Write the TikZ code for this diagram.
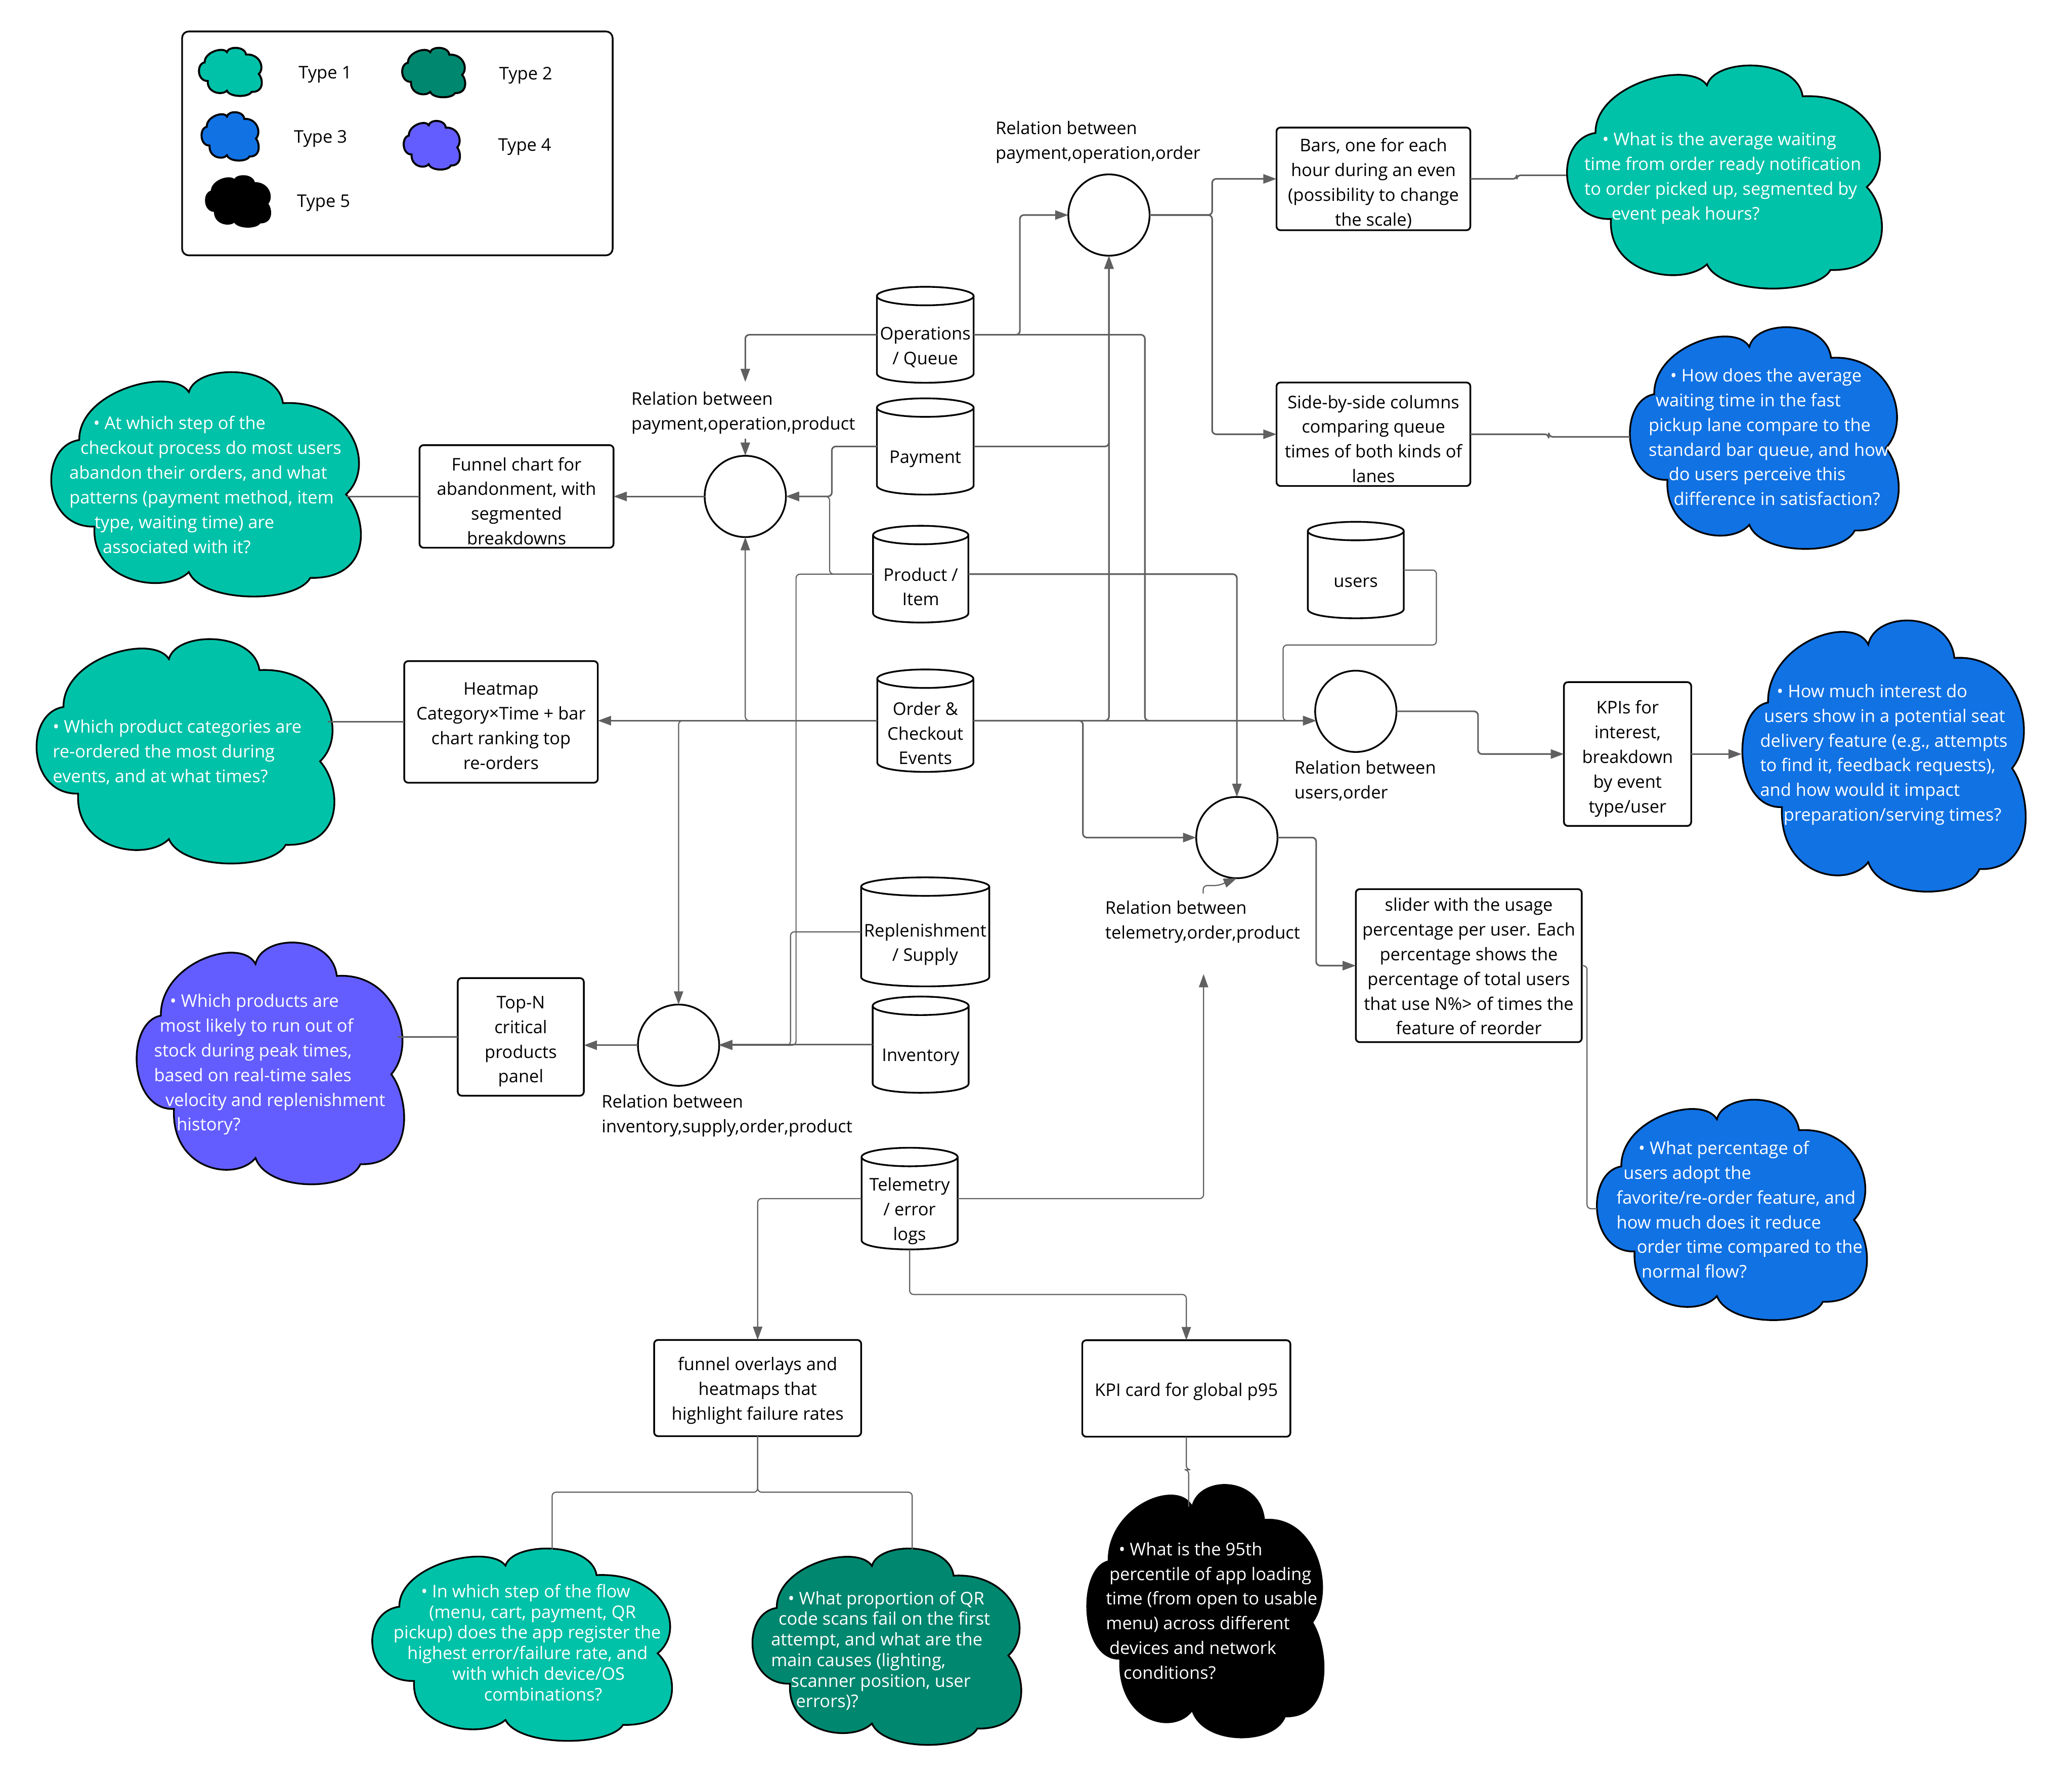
\documentclass[tikz,border=0pt]{standalone}
\usepackage{fontspec}
\setmainfont{Open Sans}
\usetikzlibrary{arrows.meta,calc}
\definecolor{typeone}{HTML}{00C2A8}
\definecolor{typetwo}{HTML}{00876F}
\definecolor{typethree}{HTML}{1172E4}
\definecolor{typefour}{HTML}{635DFF}
\definecolor{lgray}{HTML}{606060}

% cloud outline in a unit box: x, y, width, height, fill colour, line width
\newcommand{\qcloud}[6]{%
  \filldraw[fill=#5, draw=black, line width=#6, shift={(#1,#2)}, xscale=#3, yscale=#4]
   (.102,.303) .. controls (.10,.08) and (.40,-.03) .. (.455,.087)
   .. controls (.48,-.04) and (.74,-.04) .. (.758,.137)
   .. controls (.98,.12) and (1.06,.42) .. (.961,.548)
   .. controls (1.03,.65) and (1.05,.93) .. (.846,.924)
   .. controls (.80,1.04) and (.50,1.04) .. (.455,.898)
   .. controls (.38,1.0) and (.14,.95) .. (.151,.693)
   .. controls (-.02,.70) and (-.03,.33) .. (.102,.303) -- cycle;}

% data store cylinder: name, x1, y1, x2, y2, text
\newcommand{\dbcyl}[6]{%
  \node[txt, minimum width={#4-#2}, minimum height={#5-#3}] (#1) at ({(#2+#4)/2},{(#3+#5)/2}) {};
  \fill[white] ({#2},{#3+7}) -- ({#2},{#5-7}) .. controls ({#2},{#5+2.33}) and ({#4},{#5+2.33}) .. ({#4},{#5-7}) -- ({#4},{#3+7}) -- cycle;
  \draw[line width=1.3pt] ({#2},{#3+7}) -- ({#2},{#5-7}) .. controls ({#2},{#5+2.33}) and ({#4},{#5+2.33}) .. ({#4},{#5-7}) -- ({#4},{#3+7});
  \filldraw[fill=white, line width=1.3pt] ({(#2+#4)/2},{#3+7}) ellipse [x radius={(#4-#2)/2}, y radius=7];
  \node[txt, align=center] (#1T) at ({(#2+#4)/2},{(#3+#5)/2+9.5}) {#6};}

% visual box: name, centre x, centre y, width, height, text offset, text
\newcommand{\vizbox}[7]{%
  \node[vbox, minimum width=#4pt, minimum height=#5pt] (#1) at (#2,#3) {};
  \node[txt, align=center] (#1T) at ($(#1.center)+(0,#6)$) {#7};}

\begin{document}
\begin{tikzpicture}[x=1pt,y=-1pt,
  txt/.style={font=\fontsize{13.2}{18.7}\selectfont, inner sep=0pt, outer sep=0pt},
  vbox/.style={txt, draw=black, line width=1.3pt, rounded corners=3pt, fill=white},
  rel/.style={circle, draw=black, line width=1.3pt, fill=white, minimum size=61.5pt, inner sep=0pt, outer sep=0pt},
  lbl/.style={txt, align=left, anchor=north west},
  ctext/.style={txt, text=white, align=left, anchor=north west},
  ctight/.style={ctext, font=\fontsize{13.2}{15.6}\selectfont},
  conn/.style={draw=lgray, line width=1.2pt, rounded corners=3pt},
  connlite/.style={draw=lgray, line width=0.85pt, rounded corners=3pt},
  arr/.style={-{Triangle[length=10pt,width=7pt]}}
]
\useasboundingbox (0,0) rectangle (1568,1348);
\fill[white] (0,0) rectangle (1568,1348);

% ---------- legend ----------
\node[draw=black, line width=1.3pt, rounded corners=5pt, minimum width=325.8pt, minimum height=169.4pt, inner sep=0pt] (legend) at (300.7,108.5) {};
\qcloud{150}{36.3}{47.7}{36}{typeone}{1.5pt}
\qcloud{303.8}{36.3}{47.8}{37}{typetwo}{1.5pt}
\qcloud{152}{85}{43.4}{36.2}{typethree}{1.5pt}
\qcloud{305}{91.6}{42.7}{36.4}{typefour}{1.5pt}
\qcloud{155.3}{133.4}{48.7}{37.8}{black}{1.5pt}
\node[txt, anchor=west] (lt1) at (226,56.5) {Type 1};
\node[txt, anchor=west] (lt2) at (377.8,57) {Type 2};
\node[txt, anchor=west] (lt3) at (222.5,105) {Type 3};
\node[txt, anchor=west] (lt4) at (377,111.3) {Type 4};
\node[txt, anchor=west] (lt5) at (224.8,153.6) {Type 5};

% ---------- question clouds ----------
\qcloud{1183}{50}{239}{167}{typeone}{1.3pt}
\qcloud{1231}{248}{204}{166}{typethree}{1.3pt}
\qcloud{36}{282}{235}{168}{typeone}{1.3pt}
\qcloud{25}{484}{226}{168}{typeone}{1.3pt}
\qcloud{1316}{470}{215}{203}{typethree}{1.3pt}
\qcloud{1206}{832.5}{205}{165}{typethree}{1.3pt}
\qcloud{101}{713.6}{203}{181}{typefour}{1.3pt}
\qcloud{279}{1172}{227.5}{144}{typeone}{1.3pt}
\qcloud{567}{1172}{204}{147}{typetwo}{1.3pt}
\qcloud{820.6}{1124}{179.4}{189}{black}{1.3pt}

\node[ctext] (qA) at (1199,100.2) {\hspace*{13.6pt}• What is the average waiting\\time from order ready notification\\to order picked up, segmented by\\\hspace*{20.6pt}event peak hours?};
\node[ctext] (qB) at (1247.6,278.8) {\hspace*{16.4pt}• How does the average\\\hspace*{5.4pt}waiting time in the fast\\pickup lane compare to the\\standard bar queue, and how\\\hspace*{15.2pt}do users perceive this\\\hspace*{19pt}difference in satisfaction?};
\node[ctext] (qC) at (52.5,314.9) {\hspace*{18.2pt}• At which step of the\\\hspace*{8.4pt}checkout process do most users\\abandon their orders, and what\\patterns (payment method, item\\\hspace*{19pt}type, waiting time) are\\\hspace*{25.3pt}associated with it?};
\node[ctext] (qD) at (40,544.6) {• Which product categories are\\re-ordered the most during\\events, and at what times?};
\node[ctext] (qE) at (1332,517.6) {\hspace*{12.6pt}• How much interest do\\\hspace*{3pt}users show in a potential seat\\delivery feature (e.g., attempts\\to find it, feedback requests),\\and how would it impact\\\hspace*{17.7pt}preparation/serving times?};
\node[ctext] (qF) at (1223.3,863.3) {\hspace*{16.7pt}• What percentage of\\\hspace*{5.3pt}users adopt the\\favorite/re-order feature, and\\how much does it reduce\\\hspace*{15.4pt}order time compared to the\\\hspace*{19pt}normal flow?};
\node[ctext] (qG) at (116.6,752) {\hspace*{12pt}• Which products are\\\hspace*{4.3pt}most likely to run out of\\stock during peak times,\\based on real-time sales\\\hspace*{8.6pt}velocity and replenishment\\\hspace*{17.1pt}history?};
\node[ctight] (qH) at (297.8,1198.6) {\hspace*{20.8pt}• In which step of the flow\\\hspace*{27pt}(menu, cart, payment, QR\\pickup) does the app register the\\\hspace*{10.4pt}highest error/failure rate, and\\\hspace*{44.4pt}with which device/OS\\\hspace*{68.5pt}combinations?};
\node[ctight] (qI) at (583.5,1203.8) {\hspace*{12.8pt}• What proportion of QR\\\hspace*{5.7pt}code scans fail on the first\\attempt, and what are the\\main causes (lighting,\\\hspace*{15.1pt}scanner position, user\\\hspace*{18.9pt}errors)?};
\node[ctext] (qJ) at (837,1166.8) {\hspace*{9.6pt}• What is the 95th\\\hspace*{2.5pt}percentile of app loading\\time (from open to usable\\menu) across different\\\hspace*{2.5pt}devices and network\\\hspace*{13.3pt}conditions?};

% ---------- data stores ----------
\dbcyl{ops}{663.6}{217}{736.8}{289.6}{Operations\\/ Queue}
\dbcyl{pay}{663.6}{301.4}{736.8}{374.2}{Payment}
\dbcyl{prod}{660.7}{397.8}{732.8}{471}{Product /\\Item}
\dbcyl{order}{663.9}{506.5}{736.6}{584}{Order \&\\Checkout\\Events}
\dbcyl{users}{989.7}{394.8}{1062.3}{467.8}{users}
\dbcyl{rep}{651.7}{663.8}{748.6}{746.3}{Replenishment\\/ Supply}
\dbcyl{inv}{660.4}{754}{733}{826.8}{Inventory}
\dbcyl{tel}{652}{868.4}{724.7}{945.3}{Telemetry\\/ error\\logs}

% ---------- relation circles ----------
\node[rel] (c1) at (839.2,162.7) {};
\node[rel] (c2) at (564,375.6) {};
\node[rel] (c3) at (1026,538.2) {};
\node[rel] (c4) at (936,633.7) {};
\node[rel] (c5) at (513.5,790.8) {};
\node[lbl] (c1lab) at (753.4,91.8) {Relation between\\payment,operation,order};
\node[lbl] (c2lab) at (477.8,296.4) {Relation between\\payment,operation,product};
\node[lbl] (c3lab) at (979.6,575.4) {Relation between\\users,order};
\node[lbl] (c4lab) at (836.4,681.5) {Relation between\\telemetry,order,product};
\node[lbl] (c5lab) at (455.3,828) {Relation between\\inventory,supply,order,product};

% ---------- visual boxes ----------
\vizbox{bars}{1039.35}{135.35}{146.7}{77.7}{3.5}{Bars, one for each\\hour during an even\\(possibility to change\\the scale)}
\vizbox{side}{1039.35}{328.55}{146.7}{78.3}{3.5}{Side-by-side columns\\comparing queue\\times of both kinds of\\lanes}
\vizbox{funnel}{390.9}{375.6}{146.8}{77.6}{3.5}{Funnel chart for\\abandonment, with\\segmented\\breakdowns}
\vizbox{heat}{379.15}{546.2}{146.5}{92}{3}{Heatmap\\Category×Time + bar\\chart ranking top\\re-orders}
\vizbox{kpi}{1231.65}{570.5}{96.3}{108.8}{3.5}{KPIs for\\interest,\\breakdown\\by event\\type/user}
\vizbox{slider}{1111.5}{730.6}{171}{115.8}{0.5}{slider with the usage\\percentage per user. Each\\percentage shows the\\percentage of total users\\that use N\%> of times the\\feature of reorder}
\vizbox{topn}{394.1}{784.5}{95.4}{89}{3.5}{Top-N\\critical\\products\\panel}
\vizbox{fo}{573.35}{1050.2}{156.7}{72.8}{1.8}{funnel overlays and\\heatmaps that\\highlight failure rates}
\vizbox{kc}{897.75}{1050.5}{157.5}{73}{2.5}{KPI card for global p95}

% ---------- connector end points ----------
\coordinate (c2a) at (564,289);
\coordinate (c2b) at (564,332);
\coordinate (c4a) at (910.8,737);
\coordinate (c4b) at (910.5,676);
\coordinate (cAw) at (1185,132.6);
\coordinate (cBw) at (1233.5,330.5);
\coordinate (cCe) at (262.5,375.6);
\coordinate (cDe) at (248,546.2);
\coordinate (cEw) at (1318,570.5);
\coordinate (cFw) at (1208.5,914.5);
\coordinate (cGe) at (301,784.6);
\coordinate (cHn) at (417.8,1172.5);
\coordinate (cIn) at (690.3,1172.5);
\coordinate (cJn) at (899.5,1140);

% ---------- connectors ----------
\draw[conn,arr] (ops.east) -- ++(35,0) |- (c1.west);
\draw[conn,arr] (ops.east) -- (866.4,253.3) -- (866.4,545.25) -- (order.east -| c3.193);
\draw[conn,arr] (order.east) -- (order.east -| c3.193);
\draw[connlite,arr] (users.east) -- (1087,431.3) -- (1087,488) -- (971,488) -- (971,545.25) -- (order.east -| c3.193);
\draw[conn,arr] (order.west) -- (order.west -| heat.east);
\draw[connlite,arr] (order.west) -| (c2.south);
\draw[connlite,arr] (order.west) -| (c5.north);
\draw[conn,arr] (order.east) -| (c1.south);
\draw[conn,arr] (order.east) -- (819.5,545.25) |- (c4.west);
\draw[conn,arr] (pay.east) -| (c1.south);
\draw[conn,arr] (pay.west) -- (629.5,337.8) |- (c2.east);
\draw[connlite,arr] (prod.west) -- (627.8,434.4) |- (c2.east);
\draw[connlite,arr] (prod.west) -- (602.4,434.4) |- (c5.east);
\draw[conn,arr] (prod.east) -| (c4.north);
\draw[connlite,arr] (rep.west) -- (598.2,705) |- (c5.east);
\draw[conn,arr] (inv.west) -- (inv.west -| c5.east);
\draw[conn,arr] (ops.west) -| (c2a);
\draw[conn,arr] (c2b) -- (c2.north);
\draw[connlite,arr] (tel.east) -| (c4a);
\draw[connlite,arr] (c4b) -- (910.5,670) -- (922,670) -- (c4.south);
\draw[conn,arr] (c1.east) -- (917.3,162.7) |- (bars.west);
\draw[conn,arr] (c1.east) -- (917.3,162.7) |- (side.west);
\draw[conn] (bars.east) -- (1147.8,135.35) -- (1147.8,132.6) -- (cAw);
\draw[conn] (side.east) -- (1172,328.55) -- (1172,330.5) -- (cBw);
\draw[conn,arr] (c2.west) -- (funnel.east);
\draw[conn] (funnel.west) -- (cCe);
\draw[conn] (heat.west) -- (cDe);
\draw[conn,arr] (c3.east) -- (1118.5,538.2) |- (kpi.west);
\draw[conn,arr] (kpi.east) -- (cEw);
\draw[conn,arr] (c4.east) -- (996,633.7) |- (slider.west);
\draw[connlite] (slider.east) -- (1201,730.6) |- (cFw);
\draw[conn,arr] (c5.west) -- (c5.west -| topn.east);
\draw[conn] (topn.west) -- (cGe);
\draw[connlite,arr] (tel.west) -| (fo.north);
\draw[connlite,arr] (tel.south) -- (688.35,979.4) -| (kc.north);
\draw[connlite] (fo.south) -- (573.35,1129) -| (cHn);
\draw[connlite] (fo.south) -- (573.35,1129) -| (cIn);
\draw[connlite] (kc.south) -- (897.75,1112) -| (cJn);
\end{tikzpicture}
\end{document}
